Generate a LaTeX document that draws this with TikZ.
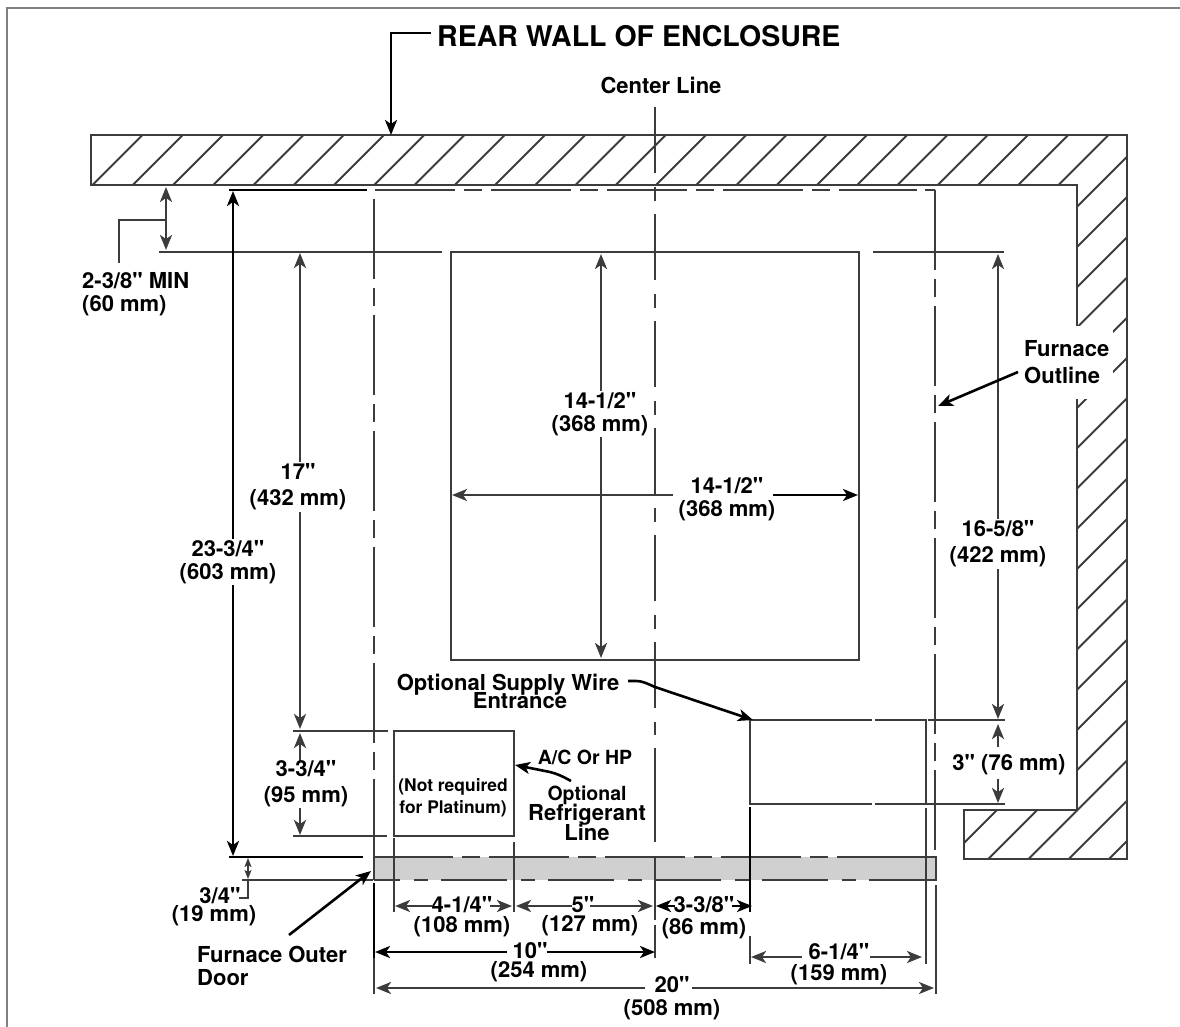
\documentclass[tikz,border=0pt]{standalone}
\usepackage{fontspec}
\newfontfamily\heros{TeX Gyre Heros}
\usetikzlibrary{arrows.meta}
\definecolor{inkgray}{RGB}{60,60,60}
\definecolor{doorgray}{RGB}{208,208,208}
\newcommand{\tightlines}{\lineskiplimit=-20pt\relax}
\tikzset{
  wallline/.style={draw=inkgray,line width=2.4pt},
  dimline/.style={draw=inkgray,line width=2.4pt},
  blackline/.style={draw=black,line width=2.6pt},
  outlinedash/.style={dash pattern=on 80pt off 9pt on 18pt off 9pt},
  centerdash/.style={dash pattern=on 66pt off 14pt on 14pt off 13pt},
  dimlabel/.style={font=\heros\bfseries\fontsize{22}{23}\selectfont,align=center,inner sep=1.5pt},
  gaplabel/.style={dimlabel,font=\heros\bfseries\fontsize{22}{#1}\selectfont\tightlines,inner sep=0pt},
  whitelabel/.style={dimlabel,fill=white},
  smalllabel/.style={font=\heros\bfseries\fontsize{19.5}{20}\selectfont,align=center,inner sep=0pt},
  tinylabel/.style={font=\heros\bfseries\fontsize{17.4}{22}\selectfont,align=center,inner sep=0pt}
}
\begin{document}
\begin{tikzpicture}[x=1pt,y=-1pt,>={Stealth[length=15pt,width=12pt,inset=4pt]}]
\useasboundingbox (0,0) rectangle (1180,1027);

\draw[draw=gray,line width=1.6pt] (7,1027) -- (7,8) -- (1180,8);

% wall
\begin{scope}
\clip (91,135) -- (1127,135) -- (1127,859) -- (964,859) -- (964,810) -- (1077,810) -- (1077,185) -- (91,185) -- cycle;
\foreach \k in {0,...,43}{
  \pgfmathsetmacro{\c}{277.5+40.25*\k}
  \draw[wallline,line width=2pt] (\c-135,135) -- (\c-859,859);
}
\end{scope}
\draw[wallline] (91,135) -- (1127,135) -- (1127,859) -- (964,859) -- (964,810) -- (1077,810) -- (1077,185) -- (91,185) -- cycle;

% door
\fill[doorgray] (374,857) rectangle (936,880);
\draw[dimline,outlinedash] (373,857) -- (917,857);
\draw[dimline,centerdash,dash phase=40pt] (374,880) -- (934,880);
\draw[dimline] (374,857) -- (374,880);
\draw[dimline,line width=1.6pt] (917,857) -- (936,857) -- (936,880) -- (917,880);

% furnace outline
\draw[blackline] (229,190) -- (367,190);
\draw[dimline,outlinedash] (375,190) -- (917,190);
\draw[dimline] (925,190) -- (935,190);
\draw[dimline,outlinedash] (374,199) -- (374,857);
\draw[dimline,outlinedash] (935,190) -- (935,850);

% center line
\draw[dimline,line width=2pt,centerdash] (655,107) -- (655,735);
\draw[dimline,line width=2pt] (655,748) -- (655,842) (655,857) -- (655,920) (655,925) -- (655,958);

% boxes
\draw[dimline] (159,252) -- (442,252);
\draw[dimline] (873,252) -- (1004,252);
\draw[dimline] (451,252) -- (859,252) -- (859,660) -- (451,660) -- cycle;
\draw[dimline] (293,731) -- (388,731) (293,836) -- (387,836);
\draw[dimline] (394,731) rectangle (514,836);
\draw[dimline] (872,720) -- (750,720) -- (750,804) -- (872,804) (875,720) -- (926,720) -- (926,804) -- (875,804);
\draw[dimline] (928,720) -- (1005,720) (927,804) -- (1005,804);

% extension lines
\draw[blackline] (229,857) -- (363,857);
\draw[dimline] (242,880) -- (373,880);
\draw[dimline] (394,838) -- (394,912) (514,842) -- (514,912);
\draw[blackline] (750,807) -- (750,912);
\draw[dimline] (750,936) -- (750,964) (926,808) -- (926,964);
\draw[blackline] (374,883) -- (374,958);
\draw[dimline] (374,958) -- (374,994) (936,885) -- (936,994);

% vertical dimensions
\draw[dimline,<->] (166,187) -- (166,250);
\draw[dimline] (166,220) -- (119,220) -- (119,263);
\draw[blackline,<->] (233,191) -- (233,856);
\draw[dimline,<->] (300,253) -- (300,729);
\draw[dimline,<-] (300,733) -- (300,762);
\draw[dimline,<-] (300,835) -- (300,808);
\draw[dimline,<->] (601,254) -- (601,658);
\draw[dimline,<->] (998,254) -- (998,719);
\draw[dimline,<-] (998,724) -- (998,747);
\draw[dimline,<-] (998,803) -- (998,779);
\draw[dimline,line width=1.6pt,{Stealth[length=9pt,width=7pt,inset=2pt]}-{Stealth[length=9pt,width=7pt,inset=2pt]}] (248,858) -- (248,879);
\draw[dimline,line width=1.6pt] (248,879) -- (248,898) -- (239,898);

% horizontal dimensions
\draw[dimline,<-] (452,495) -- (673,495);
\draw[blackline,->] (773,495) -- (858,495);
\draw[dimline,<-] (395,906) -- (432,906);
\draw[dimline,->] (490,906) -- (512,906);
\draw[dimline,<-] (516,906) -- (572,906);
\draw[dimline,->] (590,906) -- (653,906);
\draw[blackline,<-] (656,906) -- (675,906);
\draw[blackline,->] (732,906) -- (752,906);
\draw[blackline,<-] (375,952) -- (507,952);
\draw[blackline,->] (547,952) -- (655,952);
\draw[dimline,<-] (751,957) -- (802,957);
\draw[dimline,->] (870,957) -- (922,957);
\draw[dimline,<-] (376,988) -- (645,988);
\draw[dimline,->] (692,988) -- (934,988);

% labels
\node[font=\heros\bfseries\fontsize{28.5}{30}\selectfont,anchor=west,inner sep=0pt] (rearwall) at (437,36) {REAR WALL OF ENCLOSURE};
\node[dimlabel] (centerline) at (661,85) {Center Line};
\node[dimlabel,anchor=west,align=left,inner sep=0pt] (minclear) at (82,294.5) {2-3/8" MIN\\(60 mm)};
\node[whitelabel] (overall) at (228,562) {23-3/4"\\(603 mm)};
\node[whitelabel] (toseventeen) at (298,487) {17"\\[3pt](432 mm)};
\node[dimlabel,inner sep=0pt] (lowerdim) at (306,784) {3-3/4"\\[3pt](95 mm)};
\node[whitelabel] (boxheight) at (600,414) {14-1/2"\\(368 mm)};
\node[dimlabel] (boxwidth) at (727,499) {14-1/2"\\(368 mm)};
\node[whitelabel] (sideheight) at (998,544) {16-5/8"\\[3pt](422 mm)};
\node[dimlabel] (threein) at (1009,765) {3" (76 mm)};
\node[whitelabel,anchor=west,align=left,inner xsep=4pt,inner ysep=0pt,minimum height=73pt] (outline) at (1020,362) {Furnace\\[4pt]Outline};
\node[gaplabel=18] (supply) at (508,691) {Optional Supply Wire\\\hspace*{24pt}Entrance};
\node[smalllabel] (achp) at (585,757) {A/C Or HP};
\node[gaplabel=20] (refrig) at (587,813.5) {{\fontsize{19.5}{20}\selectfont Optional}\\Refrigerant\\Line};
\node[tinylabel] (notreq) at (453,798) {(Not required\\for Platinum)};
\node[gaplabel=18] (doorthick) at (214,907) {\hspace*{12pt}3/4"\\(19 mm)};
\node[dimlabel,anchor=west,align=left,inner sep=0pt] (outerdoor) at (197,965.5) {Furnace Outer\\Door};
\node[gaplabel=20] (fouronefour) at (462,917) {4-1/4"\\(108 mm)};
\node[gaplabel=19] (five) at (590,916.5) {5"\hspace*{14pt}\\(127 mm)};
\node[gaplabel=22] (threethree) at (704,918) {3-3/8"\\(86 mm)};
\node[gaplabel=19] (ten) at (539,962.5) {10"\hspace*{18pt}\\(254 mm)};
\node[gaplabel=21] (sixonefour) at (839,964.5) {6-1/4"\\(159 mm)};
\node[gaplabel=23] (twenty) at (672,998.5) {20"\\(508 mm)};

% leaders
\coordinate (wallstart) at (431,33);
\coordinate (walltip) at (391,135);
\coordinate (outlinetip) at (938,406);
\coordinate (supplystart) at (628,681);
\coordinate (supplytip) at (753,720);
\coordinate (refrigtip) at (515,765);
\coordinate (doortip) at (371,871);
\coordinate (refrigstart) at (571,781);
\coordinate (doorstart) at (289,935);
\draw[blackline,->] (wallstart) -- (391,33) -- (walltip);
\draw[blackline,->] (outline.west |- 0,372) ++(-2,0) -- (outlinetip);
\draw[blackline,->] (supplystart) -- ++(8,0) .. controls (642,681) and (646,683) .. (655,687) -- (supplytip);
\draw[blackline,->] (refrigstart) .. controls (562,776) and (556,773) .. (545,771) -- (refrigtip);
\draw[blackline,->] (doorstart) -- (doortip);
\end{tikzpicture}
\end{document}
